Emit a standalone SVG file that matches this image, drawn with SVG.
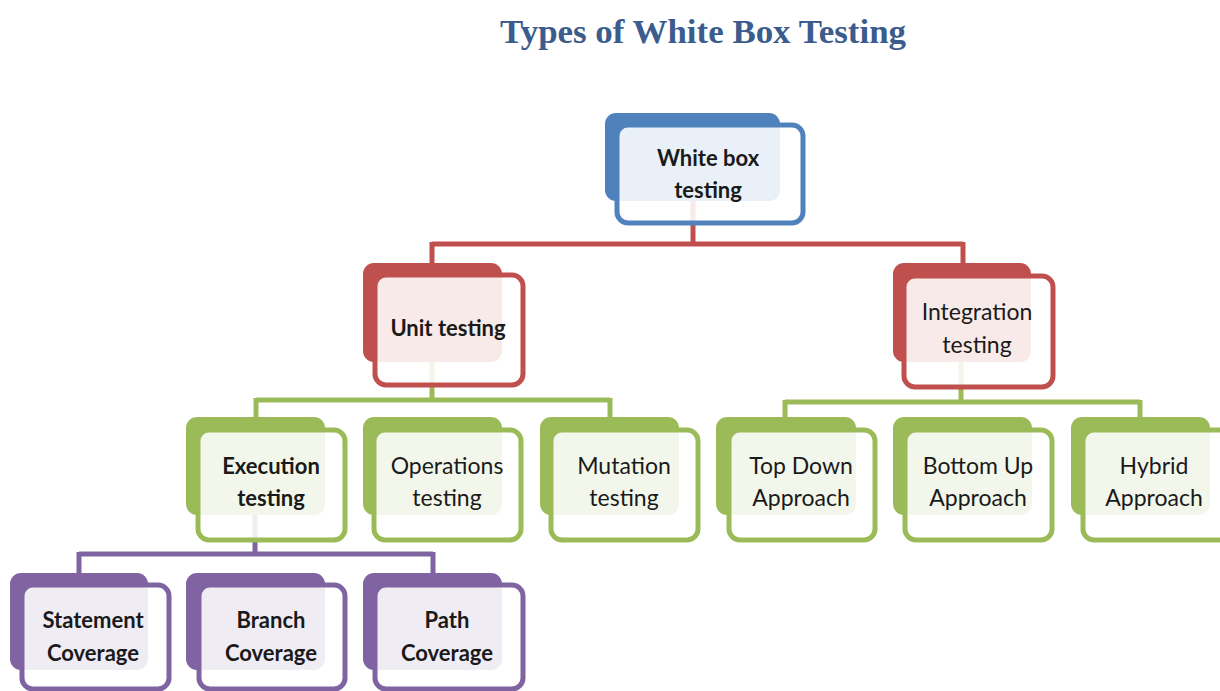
<svg xmlns="http://www.w3.org/2000/svg" width="1220" height="691" viewBox="0 0 1220 691">
<style>
.t{font-family:Lato,"Open Sans","Liberation Sans",sans-serif;font-size:23px;fill:#1a1a1a;text-anchor:middle}
.b{font-weight:bold;font-size:22px}
.front{fill:#ffffff;fill-opacity:0.88;stroke-width:5}
.blue .back{fill:#4F81BD}.blue .front{stroke:#4F81BD}
.red .back{fill:#C0504D}.red .front{stroke:#C0504D}
.green .back{fill:#9BBB59}.green .front{stroke:#9BBB59}
.purple .back{fill:#8064A2}.purple .front{stroke:#8064A2}
.c{fill:none;stroke-width:5}
</style>
<rect width="1220" height="691" fill="#ffffff"/>
<text x="703" y="43" font-family="'Liberation Serif',serif" font-weight="bold" font-size="34" fill="#3B5C8C" text-anchor="middle" textLength="406" lengthAdjust="spacingAndGlyphs">Types of White Box Testing</text>
<g id="connectors">
<path class="c" stroke="#C0504D" d="M693 200V244M432 244H963M432 242V265M963 242V265"/>
<path class="c" stroke="#9BBB59" d="M432 362V400M256 400H610M256 398V419M610 398V419"/>
<path class="c" stroke="#9BBB59" d="M961 362V402M785 402H1140M785 400V419M1140 400V419"/>
<path class="c" stroke="#8064A2" d="M255 515V554M79 554H433M79 552V575M433 552V575"/>
</g>
<g id="white-box" class="blue">
<rect class="back" x="605" y="113" width="175" height="88" rx="11"/>
<rect class="front" x="617" y="125" width="186" height="98" rx="11"/>
<text class="t b" x="708" y="166">White box</text>
<text class="t b" x="708" y="198">testing</text>
</g>
<g id="unit" class="red">
<rect class="back" x="363" y="263" width="139" height="99" rx="11"/>
<rect class="front" x="375" y="275" width="148" height="110" rx="11"/>
<text class="t b" x="448" y="336">Unit testing</text>
</g>
<g id="integration" class="red">
<rect class="back" x="893" y="263" width="138" height="99" rx="11"/>
<rect class="front" x="904" y="276" width="149" height="111" rx="11"/>
<text class="t" x="977" y="320">Integration</text>
<text class="t" x="977" y="353">testing</text>
</g>
<g id="execution" class="green">
<rect class="back" x="186" y="417" width="139" height="98" rx="11"/>
<rect class="front" x="198" y="430" width="147" height="110" rx="11"/>
<text class="t b" x="271" y="474">Execution</text>
<text class="t b" x="271" y="506">testing</text>
</g>
<g id="operations" class="green">
<rect class="back" x="363" y="417" width="139" height="98" rx="11"/>
<rect class="front" x="374" y="430" width="147" height="110" rx="11"/>
<text class="t" x="447" y="474">Operations</text>
<text class="t" x="447" y="506">testing</text>
</g>
<g id="mutation" class="green">
<rect class="back" x="540" y="417" width="139" height="98" rx="11"/>
<rect class="front" x="551" y="430" width="147" height="110" rx="11"/>
<text class="t" x="624" y="474">Mutation</text>
<text class="t" x="624" y="506">testing</text>
</g>
<g id="top-down" class="green">
<rect class="back" x="716" y="417" width="140" height="98" rx="11"/>
<rect class="front" x="729" y="430" width="146" height="110" rx="11"/>
<text class="t" x="801" y="474">Top Down</text>
<text class="t" x="801" y="506">Approach</text>
</g>
<g id="bottom-up" class="green">
<rect class="back" x="893" y="417" width="139" height="98" rx="11"/>
<rect class="front" x="905" y="430" width="147" height="110" rx="11"/>
<text class="t" x="978" y="474">Bottom Up</text>
<text class="t" x="978" y="506">Approach</text>
</g>
<g id="hybrid" class="green">
<rect class="back" x="1071" y="417" width="139" height="98" rx="11"/>
<rect class="front" x="1083" y="430" width="147" height="110" rx="11"/>
<text class="t" x="1154" y="474">Hybrid</text>
<text class="t" x="1154" y="506">Approach</text>
</g>
<g id="statement" class="purple">
<rect class="back" x="10" y="573" width="138" height="97" rx="11"/>
<rect class="front" x="22" y="585" width="147" height="104" rx="11"/>
<text class="t b" x="93" y="628">Statement</text>
<text class="t b" x="93" y="661">Coverage</text>
</g>
<g id="branch" class="purple">
<rect class="back" x="186" y="573" width="139" height="97" rx="11"/>
<rect class="front" x="199" y="585" width="146" height="104" rx="11"/>
<text class="t b" x="271" y="628">Branch</text>
<text class="t b" x="271" y="661">Coverage</text>
</g>
<g id="path" class="purple">
<rect class="back" x="363" y="573" width="139" height="97" rx="11"/>
<rect class="front" x="375" y="585" width="148" height="104" rx="11"/>
<text class="t b" x="447" y="628">Path</text>
<text class="t b" x="447" y="661">Coverage</text>
</g>
</svg>
